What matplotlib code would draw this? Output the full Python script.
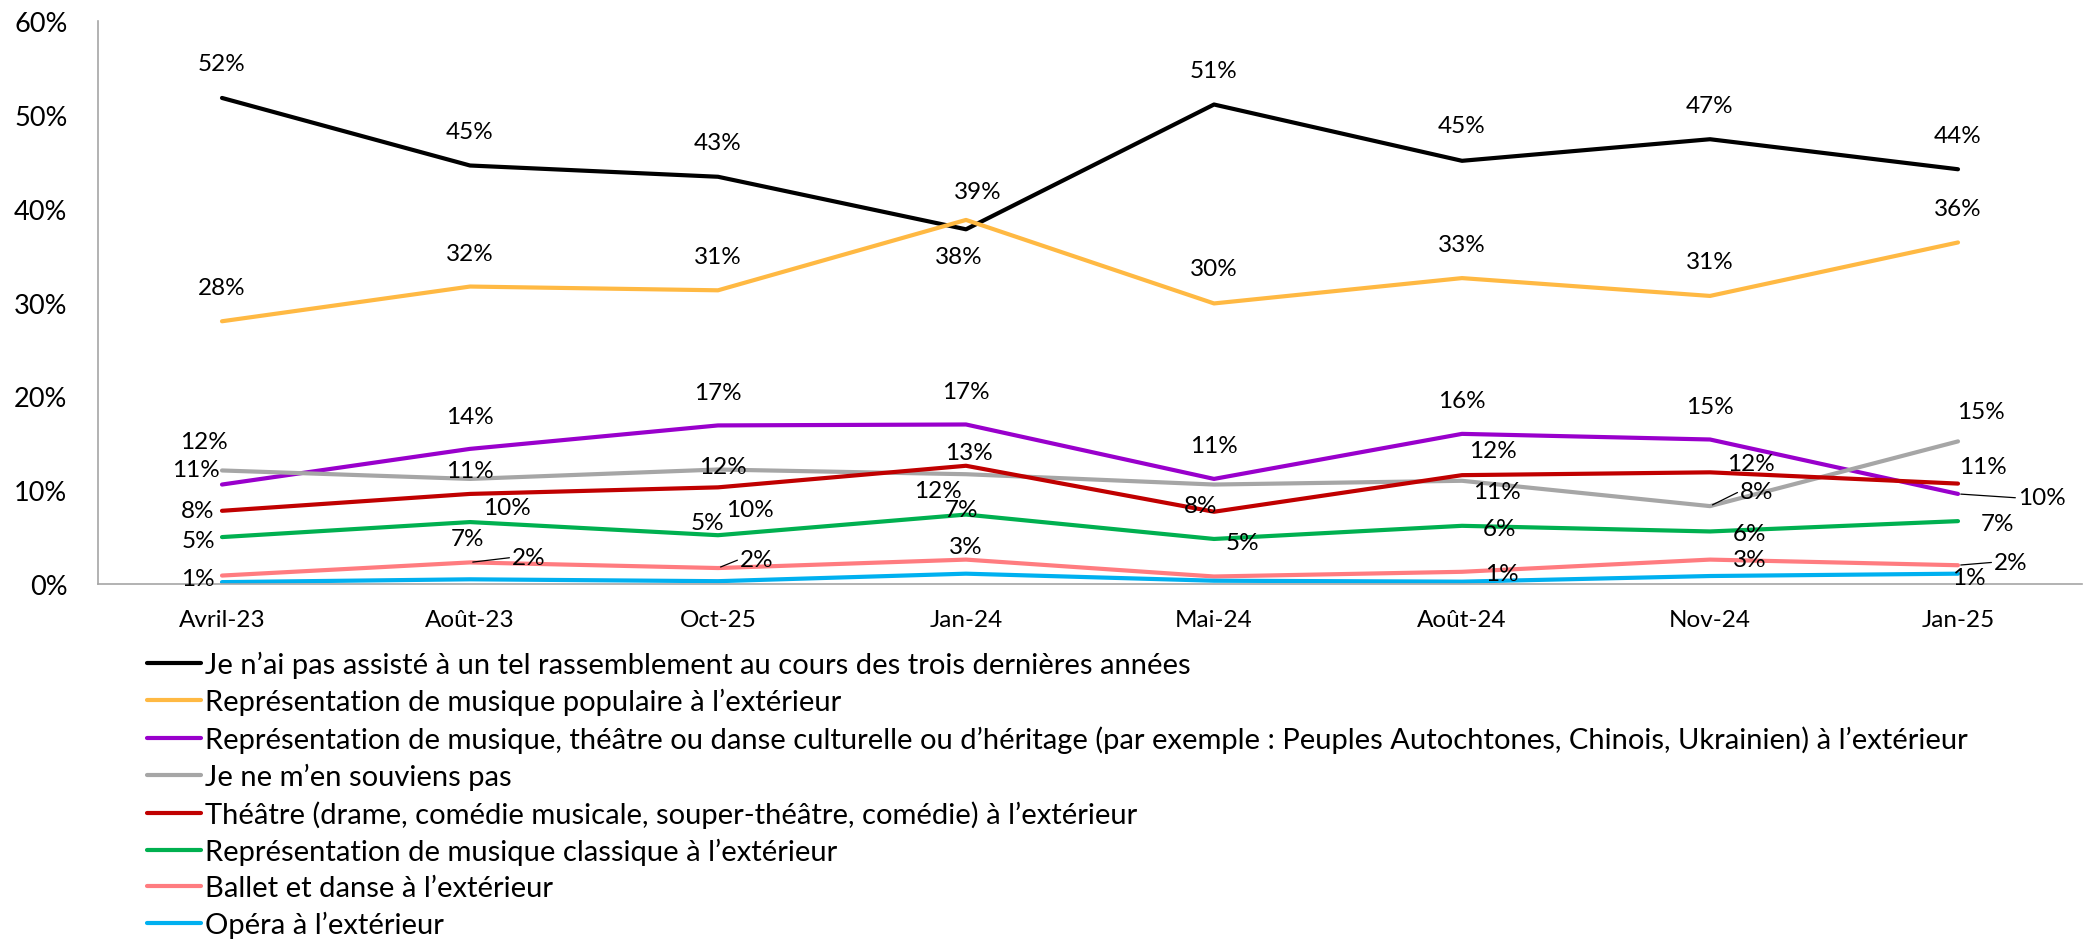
import numpy as np
import matplotlib
matplotlib.use("Agg")
import matplotlib.pyplot as plt

plt.rcParams['font.family'] = ['Lato', 'DejaVu Sans']

# data (percent)
categories = ["Avril-23", "Août-23", "Oct-25", "Jan-24", "Mai-24", "Août-24", "Nov-24", "Jan-25"]

series_names = [
    "Je n’ai pas assisté à un tel rassemblement au cours des trois dernières années",
    "Représentation de musique populaire à l’extérieur",
    "Représentation de musique, théâtre ou danse culturelle ou d’héritage (par exemple : Peuples Autochtones, Chinois, Ukrainien) à l’extérieur",
    "Je ne m’en souviens pas",
    "Théâtre (drame, comédie musicale, souper-théâtre, comédie) à l’extérieur",
    "Représentation de musique classique à l’extérieur",
    "Ballet et danse à l’extérieur",
    "Opéra à l’extérieur",
]

not_attended = [51.8, 44.6, 43.4, 37.8, 51.1, 45.1, 47.4, 44.2]
popular = [28.0, 31.7, 31.3, 38.8, 29.9, 32.6, 30.7, 36.4]
cultural = [10.6, 14.4, 16.9, 17.0, 11.2, 16.0, 15.4, 9.6]
dont_remember = [12.1, 11.2, 12.2, 11.7, 10.6, 11.0, 8.3, 15.2]
theatre = [7.8, 9.6, 10.3, 12.6, 7.7, 11.6, 11.9, 10.7]
classical = [5.0, 6.6, 5.2, 7.4, 4.8, 6.2, 5.6, 6.7]
ballet = [0.9, 2.3, 1.7, 2.6, 0.8, 1.3, 2.6, 2.0]
opera = [0.2, 0.5, 0.3, 1.1, 0.35, 0.25, 0.85, 1.1]

all_values = [not_attended, popular, cultural, dont_remember, theatre, classical, ballet, opera]
colors = ["#000000", "#FFB943", "#9900CC", "#A6A6A6", "#C00000", "#00B050", "#FF7C80", "#00B0F0"]

# label offsets in pixels (dx, dy[, leader]); None = no label
label_pos = [
    [(0, 34), (0, 34), (0, 34), (-7, -27), (0, 34), (0, 35), (0, 34), (0, 34)],
    [(0, 34), (0, 33), (0, 34), (12, 28), (0, 35), (0, 34), (0, 34), (0, 34)],
    [(-26, 15), (0, 32), (0, 33), (0, 33), (0, 33), (0, 33), (0, 33), (84, -4, True)],
    [(-18, 29), (0, 8), (5, 3), (-28, -16), None, (35, -11), (47, 15, True), (23, 30)],
    [(-24, 0), (37, -14), (32, -22), (3, 13), (-13, 6), (31, 25), (41, 9), (25, 17)],
    [(-24, -3), (-3, -16), (-11, 13), (-4, 5), (28, -4), (38, -3), (39, -2), (39, -2)],
    [(-24, -3), (59, 5, True), (39, 9, True), (0, 13), None, (40, -2), (40, 0), (53, 3, True)],
    [None, None, None, None, None, None, None, (11, -4)],
]

fig = plt.figure(figsize=(20.86, 9.45), dpi=100)
ax = fig.add_axes([98 / 2086, 1 - 585 / 945, 1984 / 2086, 563 / 945])

x = np.arange(len(categories))
for name, vals, col in zip(series_names, all_values, colors):
    ax.plot(x, vals, color=col, lw=3, label=name, solid_capstyle='round')

for vals, pos in zip(all_values, label_pos):
    for i, (v, p) in enumerate(zip(vals, pos)):
        if p is None:
            continue
        dx, dy = p[0], p[1]
        leader = len(p) > 2
        txt = f"{v:.0f}%"
        if leader:
            ax.annotate(txt, (x[i], v), xytext=(dx, dy), textcoords='offset pixels',
                        ha='center', va='center', fontsize=17.5,
                        arrowprops=dict(arrowstyle='-', color='black', lw=0.9,
                                        shrinkA=0, shrinkB=2, relpos=(0, 0.5)))
        else:
            ax.annotate(txt, (x[i], v), xytext=(dx, dy), textcoords='offset pixels',
                        ha='center', va='center', fontsize=17.5)

ax.set_xlim(-0.5, len(categories) - 0.5)
ax.set_ylim(0, 60)
ax.set_yticks(np.arange(0, 61, 10))
ax.set_yticklabels([f"{t}%" for t in range(0, 61, 10)], fontsize=19.5)
ax.set_xticks(x)
ax.set_xticklabels(categories, fontsize=17.5)
ax.tick_params(axis='x', length=0, pad=18)
ax.tick_params(axis='y', length=0, pad=22)
for s in ['top', 'right']:
    ax.spines[s].set_visible(False)
for s in ['left', 'bottom']:
    ax.spines[s].set_color('#A6A6A6')
    ax.spines[s].set_linewidth(1.2)

fig.legend(loc='upper left', bbox_to_anchor=(147 / 2086, 1 - 652 / 945), frameon=False,
           fontsize=21, handlelength=1.85, handletextpad=0.15, labelspacing=0.34,
           borderpad=0, borderaxespad=0)

fig.savefig("out.png", dpi=100)
